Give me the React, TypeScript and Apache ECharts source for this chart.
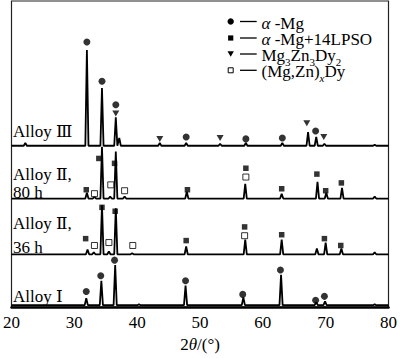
import React, { useEffect, useRef } from "react";
import * as echarts from "echarts";

const FONT = '"Liberation Serif", "DejaVu Serif", "Times New Roman", serif';

// x axis
const xMin = 20;
const xMax = 80;
const xInterval = 10;

// stacked trace baselines (y units, bottom = 0)
const traceNames = ["Alloy Ⅲ", "Alloy Ⅱ, 80 h", "Alloy Ⅱ, 36 h", "Alloy Ⅰ"];
const traceOffsets = [165, 111, 54, 2];

// peaks: [2θ (°), height above its baseline]
const alloy3Peaks = [
  [22.2, 3], [32.0, 98], [34.4, 59], [36.6, 29], [37.15, 8], [43.6, 3], [47.8, 3],
  [53.2, 2], [57.3, 3], [63.1, 3], [67.2, 14], [68.5, 9], [69.8, 2], [77.8, 1],
];
const alloy2h80Peaks = [
  [32.0, 6], [33.2, 2], [34.4, 53], [35.7, 2], [36.6, 48], [38.0, 2], [47.9, 7],
  [57.2, 15], [63.0, 5], [68.7, 17], [70.1, 6], [72.6, 11], [77.8, 2],
];
const alloy2h36Peaks = [
  [32.1, 5], [33.1, 2], [34.4, 50], [35.5, 3], [36.6, 47], [39.2, 1], [47.8, 8],
  [57.2, 15], [63.0, 15], [68.6, 6], [70.0, 12], [72.5, 6], [77.8, 2],
];
const alloy1Peaks = [
  [31.9, 7], [34.3, 25], [36.5, 41], [40.3, 1], [47.7, 20], [56.9, 8],
  [62.9, 31], [68.5, 3], [69.9, 4], [77.8, 1],
];
const tracePeaks = [alloy3Peaks, alloy2h80Peaks, alloy2h36Peaks, alloy1Peaks];

// phase markers [2θ, y]
const alphaMgMarks = [
  [32.0, 271], [34.4, 231], [36.6, 207], [47.8, 174], [57.3, 172], [63.1, 173], [68.4, 180],
  [31.9, 16], [34.2, 32], [36.4, 48], [47.7, 27], [56.8, 13], [62.8, 38], [68.4, 7], [69.8, 11],
];
const lpsoMarks = [
  [31.9, 120], [33.9, 152], [36.4, 147], [48.0, 120], [57.3, 142], [63.0, 121], [68.6, 136],
  [70.0, 119], [72.5, 127],
  [31.8, 70], [34.4, 102], [36.5, 98], [47.8, 68], [57.1, 82], [63.0, 74], [69.8, 70], [72.4, 63],
];
const mg3Zn3Dy2Marks = [[36.6, 198], [43.6, 172], [53.2, 173], [67.0, 188], [69.7, 174]];
const mgZnDyMarks = [
  [33.2, 116], [35.8, 125], [38.0, 119], [57.3, 133],
  [33.2, 63], [35.5, 66], [39.3, 63], [57.1, 73],
];

// legend texts (rich markup)
const legendTexts = [
  "{i|α}{n| -Mg}",
  "{i|α}{n| -Mg+14LPSO}",
  "{n|Mg}{s|3}{n|Zn}{s|3}{n|Dy}{s|2}",
  "{n|(Mg,Zn)}{si|x}{n|Dy}",
];

function buildTrace(peaks: number[][], base: number) {
  const hw = 0.25;
  const pts: number[][] = [[xMin, base]];
  peaks.forEach(([p, h]) => {
    pts.push([p - hw, base], [p, base + h], [p + hw, base]);
  });
  pts.push([xMax, base]);
  return pts;
}

const rich = {
  n: { fontFamily: FONT, fontSize: 17, lineHeight: 14, verticalAlign: "top", fill: "#000" },
  i: { fontFamily: FONT, fontSize: 17, lineHeight: 14, verticalAlign: "top", fontStyle: "italic", fill: "#000" },
  s: { fontFamily: FONT, fontSize: 11, lineHeight: 6, verticalAlign: "top", padding: [9.5, 0, 0, 0], fill: "#000" },
  si: { fontFamily: FONT, fontSize: 11, lineHeight: 6, verticalAlign: "top", fontStyle: "italic", padding: [9.5, 0, 0, 0], fill: "#000" },
};

export default function App() {
  const ref = useRef<HTMLDivElement>(null);
  useEffect(() => {
    if (!ref.current) return;
    const chart = echarts.init(ref.current, undefined, { renderer: "svg" });

    const lineSeries = tracePeaks.map((pk, k) => ({
      type: "line",
      name: traceNames[k],
      data: buildTrace(pk, traceOffsets[k]),
      showSymbol: false,
      symbol: "none",
      lineStyle: { color: "#000", width: 1.8 },
      z: 2,
    }));

    const legendRowY = [21.5, 38, 54, 70.3];
    const lx = 230.7;
    const legendGraphics: any[] = [];
    legendRowY.forEach((y, k) => {
      if (k === 0) legendGraphics.push({ type: "circle", shape: { cx: lx, cy: y, r: 3.2 }, style: { fill: "#000" } });
      if (k === 1) legendGraphics.push({ type: "rect", shape: { x: lx - 2.6, y: y - 2.6, width: 5.2, height: 5.2 }, style: { fill: "#000" } });
      if (k === 2) legendGraphics.push({ type: "polygon", shape: { points: [[lx - 3.2, y - 2.7], [lx + 3.2, y - 2.7], [lx, y + 2.7]] }, style: { fill: "#000" } });
      if (k === 3) legendGraphics.push({ type: "rect", shape: { x: lx - 2.5, y: y - 2.5, width: 5, height: 5 }, style: { fill: "#fff", stroke: "#000", lineWidth: 1 } });
      legendGraphics.push({ type: "line", shape: { x1: 240, y1: y, x2: 256.7, y2: y }, style: { stroke: "#000", lineWidth: 1.3 } });
      legendGraphics.push({
        type: "text", x: 261.5, y: y - 7,
        style: { text: legendTexts[k], rich, align: "left", verticalAlign: "top", fill: "#000", font: `17px ${FONT}` },
      });
    });

    const labelItems = [
      ["Alloy Ⅲ", 131.5], ["Alloy Ⅱ,", 174], ["80 h", 192.5], ["Alloy Ⅱ,", 223], ["36 h", 247.5], ["Alloy Ⅰ", 296],
    ];
    const labelGraphics = labelItems.map(([t, y]) => ({
      type: "text", x: 13, y: y as number,
      style: { text: t as string, fill: "#000", font: `17px ${FONT}`, align: "left", verticalAlign: "middle" },
    }));

    chart.setOption({
      animation: false,
      backgroundColor: "#fff",
      grid: { left: 8, right: 8, top: 1, bottom: 44, show: true, borderColor: "#222", borderWidth: 1.2, backgroundColor: "transparent" },
      xAxis: {
        type: "value", min: xMin, max: xMax, interval: xInterval,
        axisLine: { show: true, lineStyle: { color: "#000", width: 2.5 } },
        axisTick: { show: false },
        splitLine: { show: false },
        axisLabel: { color: "#000", fontFamily: FONT, fontSize: 17, margin: 7 },
        name: "2{i|θ}/(°)",
        nameLocation: "middle",
        nameGap: 27,
        nameTextStyle: {
          color: "#000", fontFamily: FONT, fontSize: 17, verticalAlign: "middle",
          rich: { i: { fontFamily: FONT, fontSize: 17, fontStyle: "italic", color: "#000" } },
        },
      },
      yAxis: { type: "value", min: 0, max: 313, show: false, splitLine: { show: false } },
      series: [
        ...lineSeries,
        { type: "scatter", name: "α-Mg", data: alphaMgMarks, symbol: "circle", symbolSize: 7, itemStyle: { color: "#000" }, z: 5 },
        { type: "scatter", name: "α-Mg+14LPSO", data: lpsoMarks, symbol: "rect", symbolSize: 5.5, itemStyle: { color: "#000" }, z: 5 },
        { type: "scatter", name: "Mg3Zn3Dy2", data: mg3Zn3Dy2Marks, symbol: "triangle", symbolRotate: 180, symbolSize: [7, 6], itemStyle: { color: "#000" }, z: 5 },
        { type: "scatter", name: "(Mg,Zn)xDy", data: mgZnDyMarks, symbol: "rect", symbolSize: 6, itemStyle: { color: "#fff", borderColor: "#000", borderWidth: 1 }, z: 5 },
      ],
      graphic: [...legendGraphics, ...labelGraphics],
    });
    return () => chart.dispose();
  }, []);
  return <div ref={ref} style={{ position: "fixed", left: 0, top: 0, width: 400, height: 358, background: "#fff" }} />;
}
